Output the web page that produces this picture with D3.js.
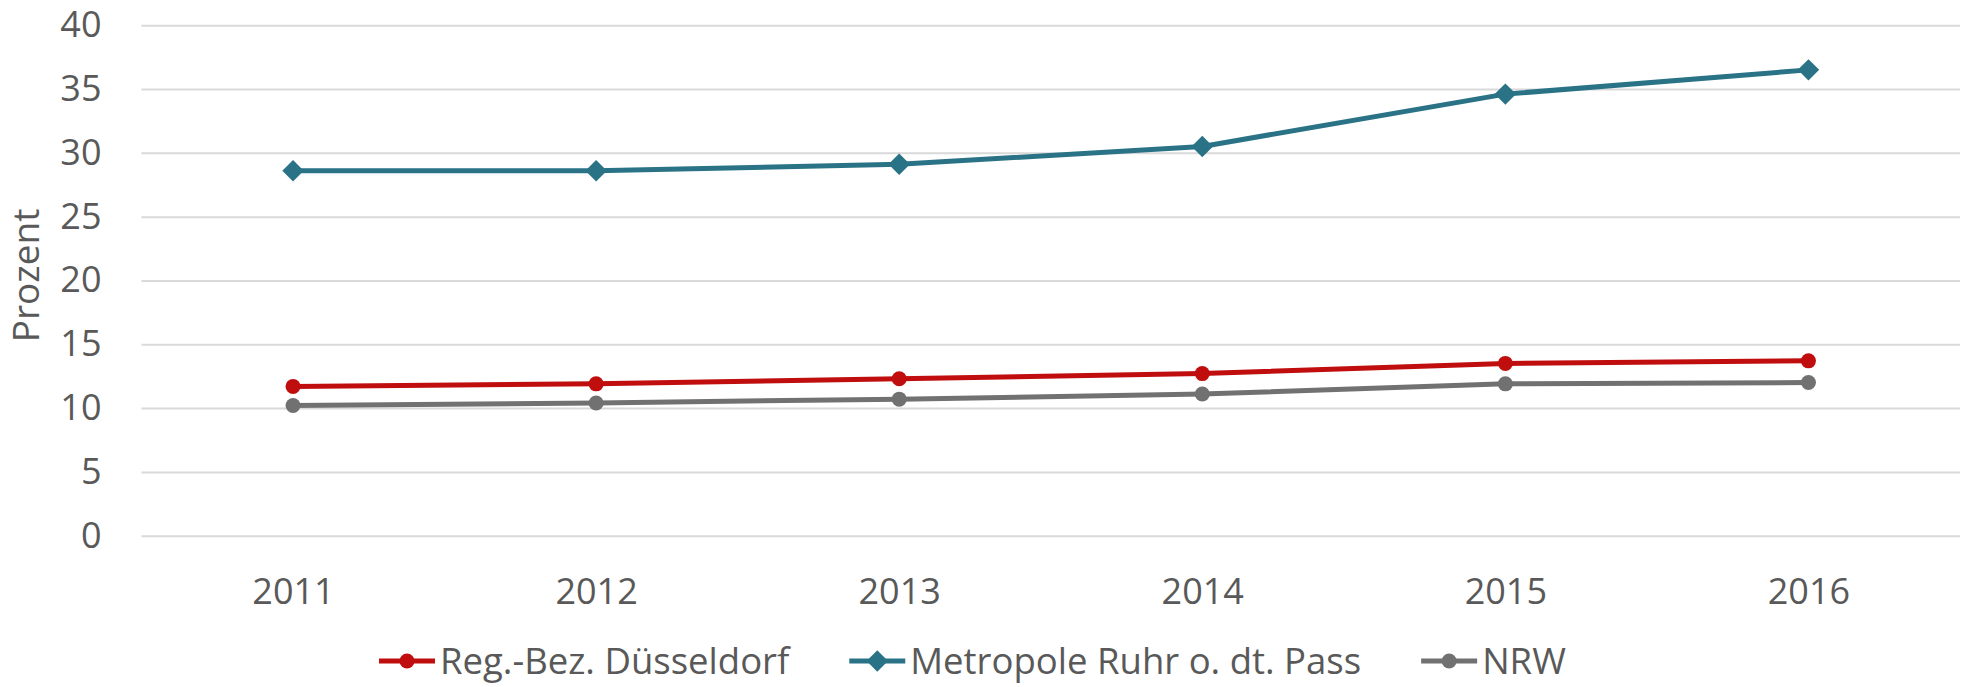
<!DOCTYPE html>
<html>
<head>
<meta charset="utf-8">
<script src="https://cdn.jsdelivr.net/npm/d3@7"></script>
<style>
  body { margin: 0; background: #fff; }
  svg text { font-family: "Open Sans", sans-serif; fill: #595959; }
</style>
</head>
<body>
<svg id="chart" width="1966" height="687"></svg>
<script>
// data
const years = ["2011", "2012", "2013", "2014", "2015", "2016"];
const regBez = [11.7, 11.9, 12.3, 12.7, 13.5, 13.7];
const metropole = [28.6, 28.6, 29.1, 30.5, 34.6, 36.5];
const nrw = [10.2, 10.4, 10.7, 11.1, 11.9, 12.0];
const yTicks = [0, 5, 10, 15, 20, 25, 30, 35, 40];

const series = [
    {name: "Reg.-Bez. Düsseldorf", values: regBez, color: "#C00D0E", marker: "circle"},
    {name: "Metropole Ruhr o. dt. Pass", values: metropole, color: "#2A7386", marker: "diamond"},
    {name: "NRW", values: nrw, color: "#717171", marker: "circle"}
];

const width = 1966;
const height = 687;
const margin = ({top: 25.2, right: 6, bottom: 151.3, left: 141.5});

const svg = d3.select("#chart");

const x = d3.scalePoint()
    .domain(years)
    .range([margin.left, width - margin.right])
    .padding(0.5);

const y = d3.scaleLinear()
    .domain([0, 40])
    .range([height - margin.bottom, margin.top]);

// gridlines
svg.append("g")
    .attr("transform", `translate(${margin.left},0)`)
    .call(d3.axisLeft(y).tickValues(yTicks).tickSize(-(width - margin.left - margin.right)).tickFormat(""))
    .call(g => g.select(".domain").remove())
    .call(g => g.selectAll("line").attr("stroke", "#D9D9D9").attr("stroke-width", 2));

// y labels
svg.append("g")
    .attr("transform", `translate(${margin.left},0)`)
    .call(d3.axisLeft(y).tickValues(yTicks).tickSize(0).tickPadding(40))
    .call(g => g.select(".domain").remove())
    .call(g => g.selectAll("text").style("font-size", "36px").attr("fill", "#595959"));

// x labels
svg.append("g")
    .attr("transform", `translate(0,${height - margin.bottom})`)
    .call(d3.axisBottom(x).tickSize(0).tickPadding(43))
    .call(g => g.select(".domain").remove())
    .call(g => g.selectAll("text").style("font-size", "36px").attr("fill", "#595959"));

// axis title
svg.append("text")
    .attr("transform", `translate(39,${(margin.top + height - margin.bottom) / 2 - 5}) rotate(-90)`)
    .attr("text-anchor", "middle")
    .style("font-size", "37px")
    .text("Prozent");

const line = d3.line()
    .x((v, i) => x(years[i]))
    .y(v => y(v));

const diamond = d3.symbol().type(d3.symbolSquare).size(230);

function drawMarker(g, s, cx, cy) {
    if (s.marker === "circle") {
        g.append("circle")
            .attr("cx", cx).attr("cy", cy).attr("r", 7.5)
            .attr("fill", s.color);
    } else {
        g.append("path")
            .attr("d", diamond())
            .attr("transform", `translate(${cx},${cy}) rotate(45)`)
            .attr("fill", s.color);
    }
}

series.forEach(s => {
    const g = svg.append("g");
    g.append("path")
        .datum(s.values)
        .attr("fill", "none")
        .attr("stroke", s.color)
        .attr("stroke-width", 5)
        .attr("stroke-linejoin", "round")
        .attr("d", line);
    s.values.forEach((v, i) => drawMarker(g, s, x(years[i]), y(v)));
});

// legend
const legend = svg.append("g");
let lx = 379;
const ly = 661;
series.forEach(s => {
    const item = legend.append("g");
    item.append("line")
        .attr("x1", lx).attr("x2", lx + 56)
        .attr("y1", ly).attr("y2", ly)
        .attr("stroke", s.color)
        .attr("stroke-width", 5);
    drawMarker(item, s, lx + 28, ly);
    const t = item.append("text")
        .attr("x", lx + 61)
        .attr("y", ly)
        .attr("dy", "0.35em")
        .style("font-size", "36.5px")
        .text(s.name);
    lx += 61 + t.node().getComputedTextLength() + 60;
});
</script>
</body>
</html>
